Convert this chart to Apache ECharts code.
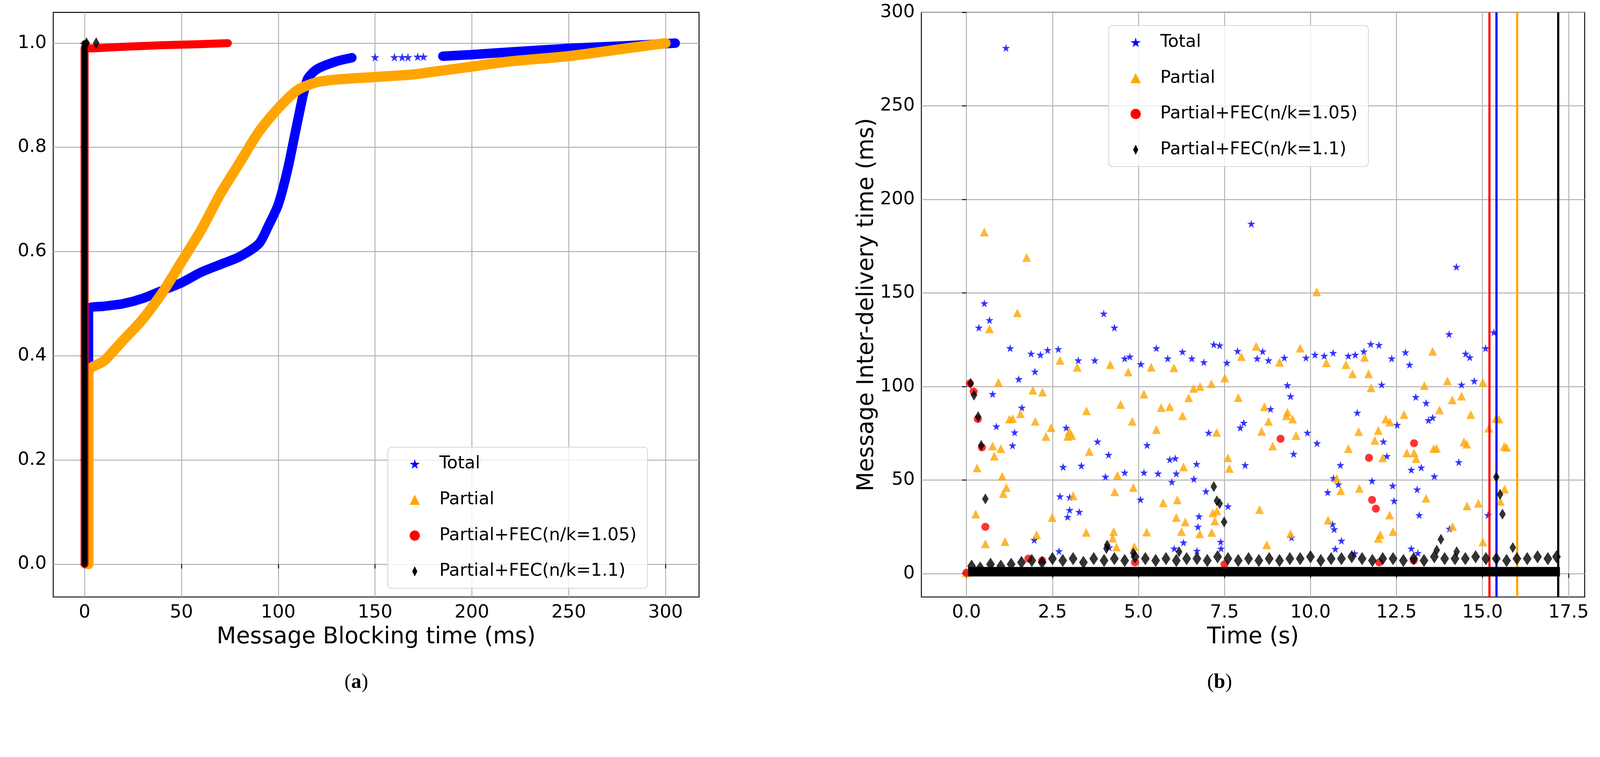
<!DOCTYPE html>
<html><head><meta charset="utf-8">
<script src="https://cdn.jsdelivr.net/npm/echarts@6/dist/echarts.min.js"></script>
<style>html,body{margin:0;padding:0;background:#fff;overflow:hidden}#c{width:100vw;height:100vh}</style>
</head><body><div id="c"></div>
<script>
// ---- (a) CDF of message blocking time ----
const cdfTotal = [[2,0],[2,0.49],[10,0.495],[20,0.5],[30,0.51],[40,0.525],[50,0.54],[60,0.56],[70,0.575],[80,0.59],[90,0.615],[95,0.65],[100,0.69],[105,0.76],[110,0.85],[115,0.93],[120,0.95],[130,0.965],[138,0.972],null,[185,0.975],[200,0.978],[220,0.983],[250,0.99],[280,0.995],[305,1.0]];
const cdfTotalSparse = [[150,0.973],[160,0.973],[164,0.973],[167,0.973],[172,0.974],[175,0.974],[305,1.0]];
const cdfPartial = [[2,0],[2,0.37],[10,0.39],[20,0.43],[30,0.47],[40,0.52],[50,0.58],[60,0.64],[70,0.71],[80,0.77],[90,0.83],[100,0.875],[110,0.91],[120,0.925],[130,0.93],[150,0.935],[170,0.94],[180,0.945],[200,0.955],[220,0.965],[250,0.975],[280,0.99],[300,1.0]];
const cdfFec105 = [[0,0],[0,0.99],[5,0.99],[20,0.993],[40,0.996],[60,0.998],[74,1.0]];
const cdfFec11 = [[0,0],[0,1.0],[1,1.0]];
const cdfFec11Pts = [[1,1.0],[6,1.0]];
const cdfXTicks = [0,50,100,150,200,250,300];
const cdfYTicks = [0,0.2,0.4,0.6,0.8,1.0];

// ---- (b) inter-delivery time scatter ----
const idTotal = [[1.15,281],[8.28,187],[14.24,164],[0.52,144.5],[0.36,131.5],[0.67,135.5],[3.99,139],[4.3,131.5],[14.03,128],[15.33,129],[1.27,120.5],[1.88,117.6],[2.15,117],[2.36,119.5],[2.67,120],[3.25,114],[3.73,114],[4.6,115],[4.75,116],[5.07,112],[5.52,120.5],[5.85,115],[6.28,118.6],[6.55,115],[6.9,113],[7.19,122.5],[7.36,122],[7.57,112.7],[7.88,119],[8.45,115],[8.61,118.8],[8.78,114],[9.24,115.4],[9.87,115.4],[10.13,117],[10.4,116.4],[10.66,118],[11.1,116.4],[11.3,117],[11.55,118.8],[11.75,122.7],[11.99,122.2],[12.36,115],[12.76,118.3],[12.88,111.7],[15.09,120.5],[14.51,117.6],[14.63,115.6],[14.76,103],[14.39,101],[12.07,101],[9.33,100.7],[1.99,108],[1.52,104],[1.61,88.7],[0.76,96],[0.87,78.7],[1.4,75.5],[1.34,68.5],[3.81,70.6],[4.13,63.5],[5.25,68.7],[5.91,61],[6.07,61.6],[6.69,58.6],[7.04,75.3],[7.96,78],[8.06,80.6],[8.1,58],[8.84,88],[9.42,94.8],[9.51,64],[9.91,75.3],[10.19,69.7],[10.87,58],[11.36,86],[12.12,70.6],[12.22,62.8],[13.06,94.4],[13.36,91.2],[13.43,82],[13.55,83.4],[13.22,56.7],[12.93,55.5],[13.6,52],[14.31,59.6],[12.52,79.5],[10.67,51],[10.5,43.5],[10.81,47.7],[13.1,45],[12.39,47],[11.79,49.6],[12.43,38.9],[13.16,31.3],[15.16,31.3],[10.64,26.4],[10.69,23.7],[10.9,17.6],[10.72,13.2],[11.28,10.8],[14.04,24],[12.93,13.4],[13.12,11],[9.45,19.3],[7.6,36],[7.39,17],[7.4,13.4],[6.7,12.2],[6.73,25],[6.76,30.6],[6.61,50.6],[5.97,49],[6.1,53.5],[5.57,53.5],[5.16,54],[5.06,39.6],[4.6,54],[4.04,51.8],[4.15,14],[3.34,57.7],[3.28,33],[3.0,34],[2.94,30.3],[2.81,57],[2.72,41.3],[3.0,40.8],[2.9,78],[1.97,18],[2.69,12],[6.04,13.4],[6.31,16.6],[6.96,44],[0.0,0.5]];
const idPartial = [[0.52,182.6],[1.75,169],[10.18,150.6],[1.48,139.4],[0.67,130.8],[2.72,114],[3.22,110.3],[4.18,111.7],[4.7,107.8],[5.37,110.3],[6.03,110],[8.42,121.5],[7.99,116],[9.1,113],[9.7,120.5],[10.46,112.7],[11.03,111.7],[11.22,106.8],[11.57,115.6],[11.69,106.8],[11.76,99.3],[13.55,118.8],[13.98,103],[15.01,102.2],[13.31,100.5],[12.72,85],[13.75,87.5],[14.12,92.9],[14.39,94.9],[14.66,85],[15.18,77.7],[15.39,82.9],[15.48,82.6],[15.63,68],[15.7,67.5],[15.64,45.2],[15.52,38.6],[15.01,16.9],[14.88,37.6],[14.55,36.2],[14.46,70.4],[14.54,69.2],[14.13,25.2],[13.66,67],[13.58,66.8],[13.36,40.3],[13.07,61.4],[13.01,64.5],[12.8,64.5],[12.4,22.5],[12.3,31.3],[12.31,81],[12.19,82.6],[12.1,61.9],[11.97,76.5],[11.87,71.2],[12.03,20.8],[11.97,18.8],[11.42,45.5],[11.4,75.9],[11.1,66.8],[10.76,50.9],[10.88,44.3],[10.51,28.6],[9.42,21.3],[9.58,73.8],[9.48,82.6],[9.33,86.3],[9.3,84.4],[8.9,68.2],[8.78,81.4],[8.66,89.2],[8.58,76],[8.73,15.4],[8.52,34.2],[7.9,94.1],[7.6,61.9],[7.64,56.2],[7.51,104.6],[7.12,101.5],[7.27,75.5],[6.79,100],[6.6,99],[6.46,94],[6.28,84.4],[6.31,57],[6.13,39.4],[6.1,30],[6.25,22.5],[6.36,27.6],[6.78,21.3],[7.13,22],[7.16,32.5],[7.22,28.1],[7.28,33.5],[5.72,37.9],[5.52,77],[5.66,88.7],[5.91,89.2],[5.16,96],[4.82,81.4],[4.85,46],[5.24,22.2],[4.88,14.4],[4.48,90.4],[4.39,52.5],[4.31,43.7],[4.28,22.5],[4.25,19],[4.36,14.2],[3.49,87],[3.57,65.3],[3.48,22],[3.1,41.6],[3.06,73.8],[2.99,76],[2.94,73.3],[2.46,78],[2.31,73.3],[2.21,97],[1.93,98],[2.0,81.4],[2.04,20.8],[2.49,30],[1.57,85.5],[1.25,82.6],[1.34,82.9],[1.16,46],[1.07,42.8],[1.04,52],[1.0,66.8],[0.93,102.2],[0.81,62.8],[0.76,68.2],[1.12,17.1],[0.55,15.9],[0.31,56.5],[0.27,31.8],[0.72,4.4],[0.0,0.5]];
const idFec105 = [[0.1,101.7],[0.21,97.3],[0.33,82.6],[0.45,67.5],[0.55,25],[9.13,72.1],[11.7,61.9],[11.79,39.4],[11.9,34.7],[13.01,69.7],[0.0,0.5],[1.8,8],[2.2,7],[4.9,6],[7.5,5],[12.0,6],[13.0,7]];
const idFec11 = [[0.12,101.7],[0.22,95.4],[0.34,83.9],[0.43,68.5],[0.55,39.9],[4.07,13.4],[4.09,15.2],[7.19,46.5],[7.28,38.9],[7.36,37.4],[7.49,27.6],[15.4,51.6],[15.51,42.3],[15.58,31.8],[13.79,18.3],[13.67,12.5],[14.25,11.7],[15.88,13.9],[6.18,11.7],[4.85,11]];
const idFec11Band = [[0.15,4],[0.4,3],[0.7,5],[1.0,4],[1.3,5],[1.6,6],[1.9,7],[2.2,6],[2.5,8],[2.8,7],[3.1,8],[3.4,6],[3.7,8],[4.0,7],[4.3,8],[4.6,7],[4.9,9],[5.2,8],[5.5,7],[5.8,8],[6.1,7],[6.4,8],[6.7,8],[7.0,7],[7.3,9],[7.6,8],[7.9,7],[8.2,8],[8.5,7],[8.8,8],[9.1,7],[9.4,8],[9.7,8],[10.0,9],[10.3,7],[10.6,8],[10.9,8],[11.2,9],[11.5,8],[11.8,7],[12.1,8],[12.4,8],[12.7,7],[13.0,8],[13.3,7],[13.6,9],[13.9,8],[14.2,8],[14.5,8],[14.8,9],[15.1,8],[15.4,8],[15.7,7],[16.0,8],[16.3,8],[16.6,9],[16.9,8],[17.15,9]];
const idFec11Base = [[0.05,1],[17.25,1]];
const endTimes = {fec105:15.2, total:15.4, partial:16.0, fec11:17.2};
const idXTicks = [0,2.5,5,7.5,10,12.5,15,17.5];
const idYTicks = [0,50,100,150,200,250,300];
const names = ['Total','Partial','Partial+FEC(n/k=1.05)','Partial+FEC(n/k=1.1)'];

const BLUE='#0000ff', ORANGE='#ffa500', RED='#ff0000', BLACK='#000000';
const FONT='DejaVu Sans';
const el = document.getElementById('c');
const s = Math.min(window.innerWidth/4390, window.innerHeight/1938);
const S = v => v*s;
const chart = echarts.init(el, null, {renderer:'canvas'});

function fmt1(v){return v.toFixed(1);}
function axisCommon(ticks, fmt){
  return {
    axisLine:{show:false},
    axisTick:{show:true, inside:false, length:S(12), lineStyle:{color:'#000',width:S(2.5)}, customValues:ticks},
    axisLabel:{show:true, color:'#000', fontFamily:FONT, fontSize:S(50), margin:S(18), customValues:ticks, formatter:fmt},
    splitLine:{show:true, lineStyle:{color:'#b0b0b0', width:S(2.5)}}
  };
}
const star='path://M50,0 L61,35 L98,35 L68,57 L79,91 L50,70 L21,91 L32,57 L2,35 L39,35 Z';
const diamond='path://M5,0 L10,10 L5,20 L0,10 Z';
function legendAt(left, top){
  return {
    left:S(left), top:S(top), orient:'vertical', itemWidth:S(28), itemHeight:S(28), itemGap:S(50),
    backgroundColor:'rgba(255,255,255,0.8)', borderColor:'#d0d0d0', borderWidth:S(2), borderRadius:S(10),
    padding:[S(22),S(30),S(22),S(60)],
    textStyle:{fontFamily:FONT, fontSize:S(48), color:'#000', padding:[0,0,0,S(48)]},
    data:names.map((n,i)=>({name:n, icon:[star,'triangle','circle',diamond][i], itemStyle:{color:[BLUE,ORANGE,RED,BLACK][i]}}))
  };
}
const vline = (x,c)=>({silent:true, symbol:'none', label:{show:false}, data:[{xAxis:x}], lineStyle:{color:c,width:S(6),type:'solid'}});
const cap = t => ({type:'text', style:{text:'{p|(}{b|'+t+'}{p|)}', rich:{p:{fontFamily:'Liberation Serif',fontSize:S(56),fill:'#000'},b:{fontFamily:'Liberation Serif',fontSize:S(56),fontWeight:'bold',fill:'#000'}}}});

const option = {
  animation:false,
  backgroundColor:'#fff',
  grid:[
    {left:S(146), top:S(34), width:S(1772), height:S(1604), show:true, borderColor:'#000', borderWidth:S(2.5), backgroundColor:'transparent'},
    {left:S(2528), top:S(34), width:S(1820), height:S(1604), show:true, borderColor:'#000', borderWidth:S(2.5), backgroundColor:'transparent'}
  ],
  xAxis:[
    Object.assign({type:'value', gridIndex:0, min:-16.2, max:317.3, name:'Message Blocking time (ms)', nameLocation:'middle', nameGap:S(80),
      nameTextStyle:{fontFamily:FONT, fontSize:S(62), color:'#000', verticalAlign:'top'}}, axisCommon(cdfXTicks, v=>String(v))),
    Object.assign({type:'value', gridIndex:1, min:-1.31, max:17.97, name:'Time (s)', nameLocation:'middle', nameGap:S(80),
      nameTextStyle:{fontFamily:FONT, fontSize:S(62), color:'#000', verticalAlign:'top'}}, axisCommon(idXTicks, fmt1))
  ],
  yAxis:[
    Object.assign({type:'value', gridIndex:0, min:-0.063, max:1.059}, axisCommon(cdfYTicks, fmt1)),
    Object.assign({type:'value', gridIndex:1, min:-12.5, max:300, name:'Message Inter-delivery time (ms)', nameLocation:'middle', nameGap:S(112),
      nameTextStyle:{fontFamily:FONT, fontSize:S(62), color:'#000'}}, axisCommon(idYTicks, v=>String(v)))
  ],
  legend:[legendAt(1064,1227), legendAt(3042,70)],
  graphic:[
    Object.assign(cap('a'), {left:S(945), top:S(1845)}),
    Object.assign(cap('b'), {left:S(3312), top:S(1845)})
  ],
  series:[
    // (a)
    {name:'Total', type:'line', xAxisIndex:0, yAxisIndex:0, data:cdfTotal, showSymbol:false, connectNulls:false, smooth:0.25, lineStyle:{color:BLUE,width:S(26),cap:'round',join:'round'}, itemStyle:{color:BLUE}, z:2},
    {name:'Total', type:'scatter', xAxisIndex:0, yAxisIndex:0, data:cdfTotalSparse, symbol:star, symbolSize:S(24), itemStyle:{color:BLUE}, z:2},
    {name:'Partial', type:'line', xAxisIndex:0, yAxisIndex:0, data:cdfPartial, showSymbol:false, smooth:0.25, lineStyle:{color:ORANGE,width:S(28),cap:'round',join:'round'}, itemStyle:{color:ORANGE}, z:3},
    {name:'Partial+FEC(n/k=1.05)', type:'line', xAxisIndex:0, yAxisIndex:0, data:cdfFec105, showSymbol:false, lineStyle:{color:RED,width:S(22),cap:'round',join:'round'}, itemStyle:{color:RED}, z:4},
    {name:'Partial+FEC(n/k=1.1)', type:'line', xAxisIndex:0, yAxisIndex:0, data:cdfFec11, showSymbol:false, lineStyle:{color:BLACK,width:S(16),cap:'round',join:'round'}, itemStyle:{color:BLACK}, z:5},
    {name:'Partial+FEC(n/k=1.1)', type:'scatter', xAxisIndex:0, yAxisIndex:0, data:cdfFec11Pts, symbol:diamond, symbolSize:[S(18),S(32)], itemStyle:{color:BLACK}, z:5},
    // (b)
    {name:'Total', type:'scatter', xAxisIndex:1, yAxisIndex:1, data:idTotal, symbol:star, symbolSize:S(22), itemStyle:{color:BLUE}, z:2, markLine:vline(endTimes.total,BLUE)},
    {name:'Partial', type:'scatter', xAxisIndex:1, yAxisIndex:1, data:idPartial, symbol:'triangle', symbolSize:S(24), itemStyle:{color:ORANGE}, z:3, markLine:vline(endTimes.partial,ORANGE)},
    {name:'Partial+FEC(n/k=1.05)', type:'scatter', xAxisIndex:1, yAxisIndex:1, data:idFec105, symbol:'circle', symbolSize:S(22), itemStyle:{color:RED}, z:4, markLine:vline(endTimes.fec105,RED)},
    {name:'Partial+FEC(n/k=1.1)', type:'line', xAxisIndex:1, yAxisIndex:1, data:idFec11Base, showSymbol:false, lineStyle:{color:BLACK,width:S(26)}, itemStyle:{color:BLACK}, z:5},
    {name:'Partial+FEC(n/k=1.1)', type:'scatter', xAxisIndex:1, yAxisIndex:1, data:idFec11Band, symbol:diamond, symbolSize:[S(24),S(36)], itemStyle:{color:BLACK}, z:5},
    {name:'Partial+FEC(n/k=1.1)', type:'scatter', xAxisIndex:1, yAxisIndex:1, data:idFec11, symbol:diamond, symbolSize:[S(18),S(30)], itemStyle:{color:BLACK}, z:6, markLine:vline(endTimes.fec11,BLACK)}
  ]
};
chart.setOption(option);
</script></body></html>
